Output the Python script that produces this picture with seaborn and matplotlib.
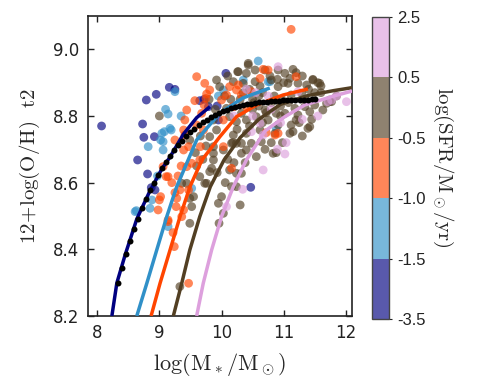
import numpy as np
import pandas as pd
import matplotlib
matplotlib.use("Agg")
import matplotlib.pyplot as plt
import seaborn as sns
from matplotlib.colors import ListedColormap, BoundaryNorm, to_rgb
from matplotlib.cm import ScalarMappable

# SFR bin edges shown on the colour bar
sfr_bounds = [-3.5, -1.5, -1.0, -0.5, 0.5, 2.5]
bin_names = ["b1", "b2", "b3", "b4", "b5"]
base_colors = ["navy", "#3090c8", "orangered", "#523f23", "plum"]

# scatter points, one pair of lists per SFR bin (log M*, 12+log O/H)
m_b1 = [8.07, 8.79, 8.95, 9.16, 9.25, 8.73, 8.75, 8.92, 8.65, 8.81, 8.93, 8.87,
        10.47, 9.65, 10.07, 9.79, 9.93, 9.95, 9.72]
oh_b1 = [8.770, 8.848, 8.865, 8.886, 8.880, 8.776, 8.736, 8.738, 8.668, 8.626, 8.578, 8.585,
         8.586, 8.846, 8.928, 8.828, 8.830, 8.788, 8.850]

m_b2 = [8.82, 9.10, 9.14, 9.08, 9.19, 9.02, 9.06, 8.61, 8.85, 8.88, 8.97, 9.14, 8.63,
        9.52, 10.59, 9.25, 9.04, 9.17, 9.06, 10.03, 10.35, 10.75, 10.88, 10.78, 9.35, 9.95]
oh_b2 = [8.708, 8.820, 8.806, 8.753, 8.758, 8.728, 8.698, 8.513, 8.523, 8.548, 8.620, 8.468, 8.516,
         8.583, 8.965, 8.873, 8.748, 8.763, 8.723, 8.878, 8.908, 8.903, 8.763, 8.903, 8.800, 8.860]

m_b4 = [9.00, 9.36, 9.49, 9.52, 9.49, 9.73, 9.81, 9.87, 10.00, 9.95, 9.96, 10.03, 10.30,
        10.24, 10.32, 10.13, 9.33, 9.87, 10.03, 10.32, 10.48, 10.24, 10.16, 9.55, 9.44, 9.65,
        9.84, 9.76, 9.92, 10.27, 10.43, 10.40, 10.54, 10.70, 10.19, 10.35, 10.54, 10.08, 10.13,
        10.24, 10.40, 10.56, 10.70, 9.92, 10.19, 10.40, 10.62, 9.87, 10.16, 10.32, 10.64, 9.49,
        9.81, 9.87, 10.32, 9.97, 11.47, 11.55, 11.37, 11.74, 11.69, 11.50, 11.34, 11.18, 11.02,
        11.23, 11.42, 11.12, 11.39, 11.15, 10.91, 10.86, 10.75, 10.88, 11.07, 11.23, 10.91, 10.80,
        11.02, 10.91, 11.10, 11.29, 11.12, 11.77, 10.43, 10.26, 11.47, 11.58, 11.42, 11.20, 11.10,
        10.83, 10.56, 10.40, 10.24, 11.74, 11.63, 9.60, 9.70, 9.58, 9.75, 9.66, 9.93, 10.06, 10.10,
        10.20, 10.38, 10.45, 10.52, 10.60, 10.66, 10.85, 10.97, 11.08, 10.30, 10.45, 10.05, 10.15,
        9.80, 10.90, 11.30, 11.15, 11.35, 11.60, 11.45, 11.30, 10.98, 10.80, 10.70, 10.95, 10.80,
        10.60, 10.50, 10.10, 10.35, 10.62, 10.78, 11.00, 11.20, 11.40, 11.60, 11.85, 10.25, 10.50,
        10.72, 10.95, 11.25, 11.50, 9.90, 10.18, 10.66, 10.88]
oh_b4 = [8.800, 8.598, 8.553, 8.528, 8.478, 8.598, 8.633, 8.668, 8.558, 8.538, 8.478, 8.508, 8.533,
         8.588, 8.628, 8.638, 8.288, 8.688, 8.698, 8.688, 8.718, 8.628, 8.588, 8.558, 8.598, 8.618,
         8.643, 8.598, 8.908, 8.933, 8.953, 8.928, 8.938, 8.938, 8.903, 8.898, 8.903, 8.823, 8.798,
         8.783, 8.788, 8.798, 8.818, 8.758, 8.743, 8.748, 8.758, 8.708, 8.718, 8.718, 8.723, 8.728,
         8.738, 8.788, 8.808, 8.888, 8.910, 8.900, 8.893, 8.848, 8.838, 8.833, 8.828, 8.823, 8.808,
         8.803, 8.813, 8.773, 8.763, 8.753, 8.773, 8.748, 8.788, 8.808, 8.898, 8.898, 8.888, 8.908,
         8.928, 8.938, 8.913, 8.868, 8.863, 8.843, 8.958, 8.933, 8.908, 8.898, 8.768, 8.788, 8.748,
         8.688, 8.678, 8.698, 8.718, 8.843, 8.818, 8.650, 8.670, 8.690, 8.710, 8.740, 8.630, 8.600,
         8.670, 8.660, 8.660, 8.770, 8.840, 8.860, 8.870, 8.860, 8.850, 8.840, 8.850, 8.880, 8.860,
         8.850, 8.850, 8.910, 8.920, 8.940, 8.850, 8.870, 8.790, 8.740, 8.720, 8.720, 8.700, 8.830,
         8.840, 8.830, 8.820, 8.920, 8.870, 8.890, 8.920, 8.900, 8.930, 8.880, 8.890, 8.860, 8.760,
         8.850, 8.810, 8.800, 8.780, 8.870, 8.820, 8.720, 8.780, 8.690]

m_b3 = [9.06, 9.11, 9.02, 9.00, 9.14, 9.24, 9.47, 8.98, 9.14, 9.28, 9.39, 9.33, 9.44, 9.52,
        9.65, 9.47, 10.16, 9.36, 9.14, 9.27, 9.60, 9.73, 9.57, 9.75, 9.39, 9.47, 11.12, 11.20,
        10.67, 10.91, 10.72, 9.76, 9.72, 10.00, 10.08, 10.27, 10.32, 10.48, 10.62, 10.40, 10.19,
        10.03, 9.71, 10.03, 9.66, 9.41, 10.13, 10.75, 10.86, 9.20, 9.25, 9.30, 9.35, 9.22, 9.81,
        10.24, 10.18, 9.68, 9.44, 9.41, 9.60, 9.25, 9.39]
oh_b3 = [8.648, 8.618, 8.558, 8.548, 8.618, 8.408, 8.298, 8.518, 8.488, 8.553, 8.518, 8.578, 8.648, 8.658,
         8.668, 8.578, 8.643, 8.498, 8.483, 8.528, 8.918, 8.898, 8.846, 8.853, 8.758, 8.708, 9.060, 8.918,
         8.940, 8.748, 8.750, 8.866, 8.833, 8.848, 8.863, 8.893, 8.863, 8.873, 8.913, 8.828, 8.828,
         8.788, 8.758, 8.708, 8.708, 8.743, 8.888, 8.938, 8.743, 8.600, 8.570, 8.620, 8.650, 8.450, 8.878,
         8.878, 8.828, 8.808, 8.818, 8.788, 8.773, 8.728, 8.698]

m_b5 = [10.67, 10.34, 10.08, 11.02, 11.04, 10.91, 10.48, 10.62, 10.67, 11.23, 11.77, 11.71, 12.01,
        10.40, 10.55, 10.75, 10.95, 11.30, 11.55, 11.85, 10.80, 10.50, 10.20, 10.90]
oh_b5 = [8.638, 8.580, 8.528, 8.686, 8.720, 8.948, 8.753, 8.778, 8.743, 8.873, 8.848, 8.843, 8.843,
         8.880, 8.870, 8.860, 8.780, 8.790, 8.800, 8.860, 8.820, 8.800, 8.800, 8.700]

# model curves, one per bin
curve_m = {
    "b1": [8.236, 8.316, 8.449, 8.637, 8.840, 9.039, 9.172, 9.385, 9.600, 9.814],
    "b2": [8.637, 8.798, 8.958, 9.119, 9.279, 9.440, 9.600, 9.974, 10.343, 10.777],
    "b3": [8.867, 9.011, 9.172, 9.332, 9.493, 9.685, 9.974, 10.242, 10.563, 10.990, 11.390],
    "b4": [9.225, 9.360, 9.490, 9.650, 9.820, 10.040, 10.300, 10.600, 10.950, 11.400, 11.800, 12.100],
    "b5": [9.600, 9.706, 9.841, 10.000, 10.190, 10.400, 10.700, 11.020, 11.340, 11.770, 12.100],
}
curve_oh = {
    "b1": [8.200, 8.299, 8.383, 8.491, 8.572, 8.641, 8.677, 8.745, 8.795, 8.828],
    "b2": [8.200, 8.298, 8.398, 8.498, 8.588, 8.658, 8.728, 8.809, 8.854, 8.884],
    "b3": [8.200, 8.298, 8.398, 8.498, 8.588, 8.668, 8.738, 8.798, 8.833, 8.863, 8.881],
    "b4": [8.200, 8.298, 8.398, 8.498, 8.588, 8.668, 8.735, 8.790, 8.835, 8.862, 8.876, 8.885],
    "b5": [8.200, 8.298, 8.398, 8.498, 8.588, 8.668, 8.755, 8.798, 8.833, 8.858, 8.875],
}

# black dotted relation
black_m = [8.330, 8.395, 8.460, 8.525, 8.590, 8.655, 8.720, 8.785, 8.850, 8.915, 8.980, 9.045,
           9.110, 9.175, 9.240, 9.305, 9.370, 9.435, 9.500, 9.565, 9.630, 9.695, 9.760, 9.825,
           9.890, 9.955, 10.020, 10.085, 10.150, 10.215, 10.280, 10.345, 10.410, 10.475, 10.540,
           10.605, 10.670, 10.735, 10.800, 10.865, 10.930, 10.995, 11.060, 11.125, 11.190, 11.255,
           11.320, 11.385, 11.450, 11.500]
black_oh = [8.298, 8.345, 8.387, 8.425, 8.460, 8.492, 8.525, 8.552, 8.577, 8.600, 8.622, 8.643,
            8.662, 8.680, 8.697, 8.712, 8.726, 8.739, 8.751, 8.762, 8.772, 8.781, 8.789, 8.796,
            8.803, 8.809, 8.814, 8.819, 8.823, 8.827, 8.830, 8.833, 8.835, 8.837, 8.839,
            8.841, 8.842, 8.843, 8.844, 8.845, 8.846, 8.847, 8.847, 8.848, 8.848, 8.849,
            8.849, 8.849, 8.850, 8.850]

alpha = 0.65

sns.set_style("ticks")
plt.rcParams["mathtext.fontset"] = "cm"
plt.rcParams["font.family"] = ["DejaVu Sans"]

frames = []
order = [("b1", m_b1, oh_b1), ("b2", m_b2, oh_b2), ("b4", m_b4, oh_b4),
         ("b3", m_b3, oh_b3), ("b5", m_b5, oh_b5)]
for name, m, oh in order:
    frames.append(pd.DataFrame({"logm": m, "oh": oh, "bin": name}))
df = pd.concat(frames, ignore_index=True)
palette = dict(zip(bin_names, base_colors))

fig = plt.figure(figsize=(4.91, 3.91), dpi=100)
ax = fig.add_axes([0.179, 0.192, 0.538, 0.767])

sns.scatterplot(data=df, x="logm", y="oh", hue="bin", palette=palette, alpha=alpha,
                s=40, edgecolor="none", legend=False, ax=ax, zorder=2)

for name, col in zip(bin_names, base_colors):
    ax.plot(curve_m[name], curve_oh[name], color=col, lw=2.5, zorder=3,
            solid_capstyle="butt")

ax.plot(black_m, black_oh, "o", color="black", ms=4.3, mec="none", zorder=4)

ax.set_xlim(7.85, 12.1)
ax.set_ylim(8.2, 9.1)
ax.set_xticks([8, 9, 10, 11, 12])
ax.set_yticks([8.2, 8.4, 8.6, 8.8, 9.0])
ax.set_yticklabels(["8.2", "8.4", "8.6", "8.8", "9.0"])
ax.tick_params(direction="in", top=True, right=True, length=4, width=1,
               labelsize=12, colors="#222222", pad=6)
for sp in ax.spines.values():
    sp.set_linewidth(1.2)
    sp.set_color("#222222")
ax.set_xlabel(r"$\mathrm{log(M_*/M_\odot)}$", fontsize=16, labelpad=6)
ax.set_ylabel(r"$\mathrm{12\!+\!log(O/H)}$  $\mathrm{t2}$", fontsize=15, labelpad=8)

# colour bar with uniform spacing of the uneven bins
bar_colors = [tuple(alpha * np.array(to_rgb(c)) + (1 - alpha)) for c in base_colors]
cmap = ListedColormap(bar_colors)
norm = BoundaryNorm(sfr_bounds, cmap.N)
cax = fig.add_axes([0.758, 0.184, 0.035, 0.773])
cb = fig.colorbar(ScalarMappable(norm=norm, cmap=cmap), cax=cax, spacing="uniform",
                  ticks=sfr_bounds)
cb.ax.set_yticklabels(["%.1f" % b for b in sfr_bounds], fontsize=12,
                      family="Liberation Sans")
cb.ax.tick_params(length=2, width=0.8, colors="#222222")
cb.outline.set_linewidth(1.0)
cb.outline.set_edgecolor("#444444")
cb.set_label(r"$\mathrm{log(SFR/M_\odot/yr)}$", rotation=270, fontsize=15, labelpad=22)

fig.savefig("out.png", dpi=100)
